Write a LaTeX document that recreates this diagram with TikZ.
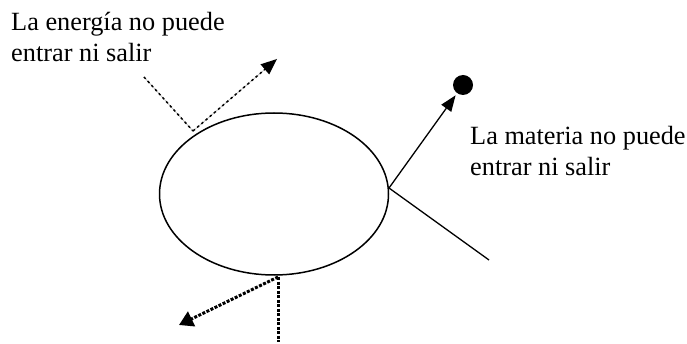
\documentclass[tikz,border=0pt]{standalone}
\usepackage{fontspec}
\setmainfont{Liberation Serif}
\usetikzlibrary{shapes.geometric,arrows.meta}
\newcommand{\lblfont}{\fontsize{26.3}{30}\selectfont}
\begin{document}
\begin{tikzpicture}[x=1pt,y=-1pt,
  lbl/.style={anchor=base west, inner sep=0pt, font=\lblfont},
  sysbox/.style={draw, ellipse, line width=1.5pt, minimum width=229pt, minimum height=162pt, inner sep=0pt},
  energytop/.style={line width=1.5pt, dash pattern=on 2.5pt off 3pt,
     preaction={draw=gray!55, line width=0.7pt, solid, -}},
  energybot/.style={line width=3pt, dash pattern=on 3pt off 1.5pt},
  matter/.style={line width=1.3pt},
  dotnode/.style={circle, fill=black, minimum width=19pt, minimum height=20pt, inner sep=0pt}
]
\useasboundingbox (0,0) rectangle (687,344);
% texts
\node[lbl] (e1) at (11,31) {La energía no puede};
\node[lbl] (e2) at (11,62) {entrar ni salir};
\node[lbl] (m1) at (470,145) {La materia no puede};
\node[lbl] (m2) at (470,176) {entrar ni salir};
% system
\node[sysbox] (sys) at (274,194) {};
% dot
\node[dotnode] (dot) at (463,85) {};
% coordinates
\coordinate (vt) at (193,131);
\coordinate (et0) at (144,77);
\coordinate (et1) at (277,59);
\coordinate (vb) at (278,277);
\coordinate (eb0) at (278,342);
\coordinate (eb1) at (179,325);
\coordinate (vr) at (389,188);
\coordinate (mr) at (489,260);
% energy, top
\draw[energytop] (et0) -- (vt);
\draw[energytop, -{Triangle[length=16pt,width=13pt]}] (vt) -- (et1);
% energy, bottom
\draw[energybot] (vb) -- (eb0);
\draw[energybot, -{Triangle[length=14pt,width=16pt]}] (vb) -- (eb1);
% matter
\draw[matter, -{Triangle[length=16pt,width=12pt]}, shorten >=2.5pt] (vr) -- (dot);
\draw[matter] (vr) -- (mr);
\end{tikzpicture}
\end{document}
